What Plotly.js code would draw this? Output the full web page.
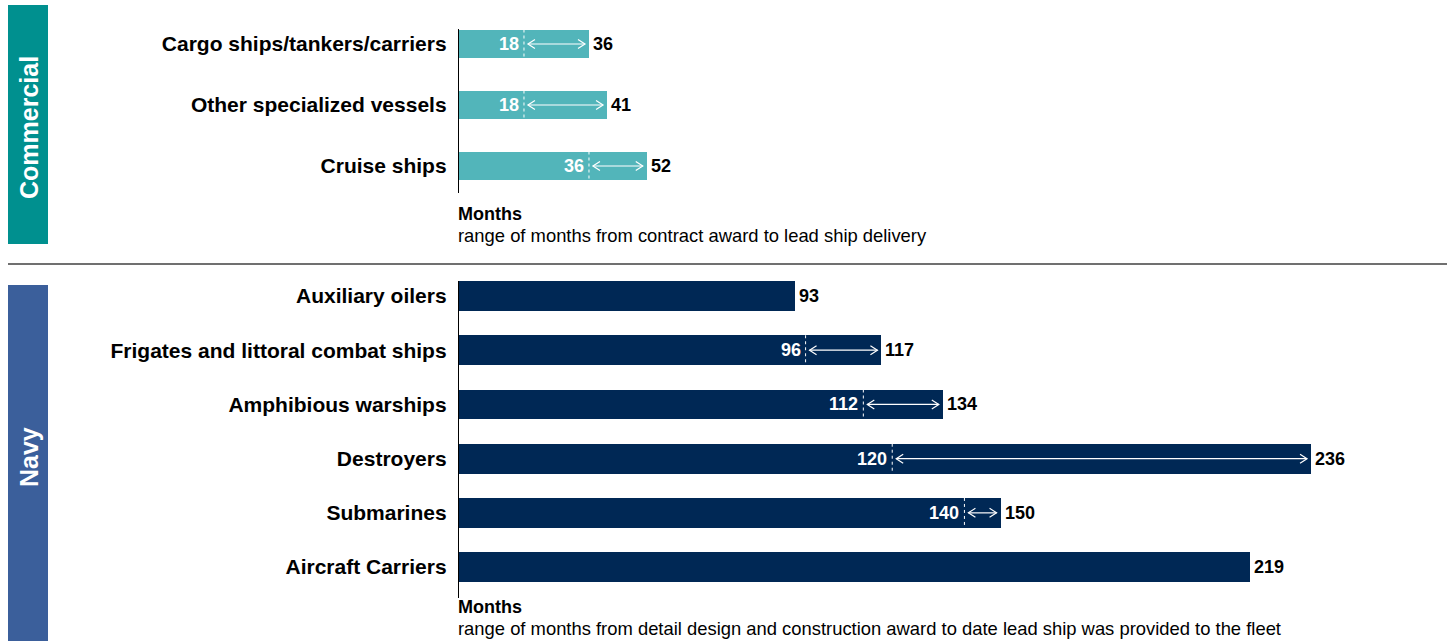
<!DOCTYPE html>
<html>
<head>
<meta charset="utf-8">
<script src="https://cdn.plot.ly/plotly-3.0.1.min.js"></script>
<style>
html,body{margin:0;padding:0;background:#fff;}
#chart{width:1450px;height:641px;}
</style>
</head>
<body>
<div id="chart"></div>
<script>
// ---- Data ----
const commCats = ['Cargo ships/tankers/carriers', 'Other specialized vessels', 'Cruise ships'];
const commMin = [18, 18, 36];
const commMax = [36, 41, 52];

const navyCats = ['Auxiliary oilers', 'Frigates and littoral combat ships', 'Amphibious warships', 'Destroyers', 'Submarines', 'Aircraft Carriers'];
const navyMin = [null, 96, 112, 120, 140, null];
const navyMax = [93, 117, 134, 236, 150, 219];

const commNote = 'range of months from contract award to lead ship delivery';
const navyNote = 'range of months from detail design and construction award to date lead ship was provided to the fleet';

// ---- Style ----
const W = 1450, H = 641;
const FONT = 'Liberation Sans, Arial, sans-serif';
const tealBar = '#52b5ba', tealBox = '#00908f';
const navyBar = '#002855', navyBox = '#3b5f9b';
const xDomain = [459 / W, 1];
const xRange = [0, 274.5];
const px = v => v / W;
const py = v => 1 - v / H;

const commWidth = 0.475, navyWidth = 0.55;
const gap = 1.1;

const traces = [];
const shapes = [];
const annotations = [];

function panel(cats, mins, maxs, color, width, xa, ya) {
  const idx = cats.map((_, i) => i);
  traces.push({
    type: 'bar', orientation: 'h',
    x: maxs, y: idx, base: 0, width: width,
    marker: {color: color, line: {width: 0}},
    xaxis: xa, yaxis: ya, hoverinfo: 'skip', showlegend: false
  });
  const xr = xa === 'x' ? 'x' : 'x2';
  const yr = ya === 'y' ? 'y' : 'y2';
  idx.forEach(i => {
    annotations.push({
      x: maxs[i], y: i, xref: xr, yref: yr, text: String(maxs[i]),
      showarrow: false, xanchor: 'left', xshift: 2,
      font: {family: FONT, size: 18, color: '#000', weight: 'bold'}
    });
    if (mins[i] !== null) {
      shapes.push({
        type: 'line', xref: xr, yref: yr,
        x0: mins[i], x1: mins[i], y0: i - width / 2, y1: i + width / 2,
        line: {color: '#ffffff', width: 1, dash: 'dot'}
      });
      annotations.push({
        x: mins[i], y: i, xref: xr, yref: yr, text: String(mins[i]),
        showarrow: false, xanchor: 'right', xshift: -3,
        font: {family: FONT, size: 18, color: '#ffffff', weight: 'bold'}
      });
      const a0 = mins[i] + gap, a1 = maxs[i] - gap;
      shapes.push({
        type: 'line', xref: xr, yref: yr,
        x0: a0, x1: a1, y0: i, y1: i,
        line: {color: '#ffffff', width: 1.2}
      });
      shapes.push({
        type: 'path', xref: xr, yref: yr,
        xsizemode: 'pixel', ysizemode: 'pixel', xanchor: a1, yanchor: i,
        path: 'M-7,-4.5 L0,0 L-7,4.5',
        line: {color: '#ffffff', width: 1.2}
      });
      shapes.push({
        type: 'path', xref: xr, yref: yr,
        xsizemode: 'pixel', ysizemode: 'pixel', xanchor: a0, yanchor: i,
        path: 'M7,-4.5 L0,0 L7,4.5',
        line: {color: '#ffffff', width: 1.2}
      });
    }
  });
}

panel(commCats, commMin, commMax, tealBar, commWidth, 'x', 'y');
panel(navyCats, navyMin, navyMax, navyBar, navyWidth, 'x2', 'y2');

// side boxes
shapes.push({type: 'rect', xref: 'paper', yref: 'paper', x0: px(8), x1: px(48), y0: py(244), y1: py(5),
  fillcolor: tealBox, line: {width: 0}, layer: 'below'});
shapes.push({type: 'rect', xref: 'paper', yref: 'paper', x0: px(8), x1: px(48), y0: py(641), y1: py(285),
  fillcolor: navyBox, line: {width: 0}, layer: 'below'});
// separator
shapes.push({type: 'line', xref: 'paper', yref: 'paper', x0: px(8), x1: px(1447), y0: py(264), y1: py(264),
  line: {color: '#404040', width: 1.3}});

annotations.push({xref: 'paper', yref: 'paper', x: px(29), y: py(128), xanchor: 'center', yanchor: 'middle',
  text: 'Commercial', textangle: -90,
  showarrow: false, font: {family: FONT, size: 25, color: '#ffffff', weight: 'bold'}});
annotations.push({xref: 'paper', yref: 'paper', x: px(29), y: py(457), xanchor: 'center', yanchor: 'middle',
  text: 'Navy', textangle: -90,
  showarrow: false, font: {family: FONT, size: 25, color: '#ffffff', weight: 'bold'}});

function note(yTop, sub) {
  annotations.push({xref: 'paper', yref: 'paper', x: px(456), y: py(yTop), xanchor: 'left', yanchor: 'middle',
    text: 'Months', showarrow: false, font: {family: FONT, size: 18, color: '#000', weight: 'bold'}});
  annotations.push({xref: 'paper', yref: 'paper', x: px(456), y: py(yTop + 21), xanchor: 'left', yanchor: 'middle',
    text: sub, showarrow: false, font: {family: FONT, size: 18.4, color: '#000'}});
}
note(214, commNote);
note(607, navyNote);

const yBase = {
  showline: true, linecolor: '#000', linewidth: 1.2, showgrid: false, zeroline: false,
  ticks: 'outside', ticklen: 7, tickcolor: 'rgba(0,0,0,0)',
  tickfont: {family: FONT, size: 21, color: '#000', weight: 'bold'}
};
const xBase = {range: xRange, domain: xDomain, showgrid: false, zeroline: false, showticklabels: false, ticks: '', showline: false, fixedrange: true};

const layout = {
  width: W, height: H,
  margin: {l: 0, r: 0, t: 0, b: 0},
  paper_bgcolor: '#fff', plot_bgcolor: 'rgba(0,0,0,0)',
  showlegend: false, bargap: 0,
  xaxis: Object.assign({}, xBase, {anchor: 'y'}),
  xaxis2: Object.assign({}, xBase, {anchor: 'y2'}),
  yaxis: Object.assign({}, yBase, {
    domain: [py(193), py(29)], range: [2.443, -0.246],
    tickvals: commCats.map((_, i) => i), ticktext: commCats, anchor: 'x'
  }),
  yaxis2: Object.assign({}, yBase, {
    domain: [py(598), py(281)], range: [5.57, -0.276],
    tickvals: navyCats.map((_, i) => i), ticktext: navyCats, anchor: 'x2'
  }),
  shapes: shapes,
  annotations: annotations
};

Plotly.newPlot('chart', traces, layout, {displayModeBar: false, staticPlot: true});
</script>
</body>
</html>
